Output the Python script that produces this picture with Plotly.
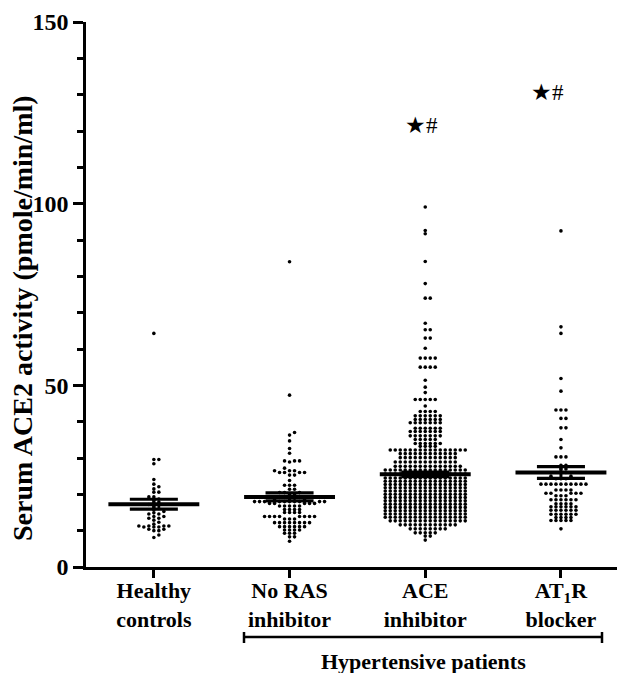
import numpy as np
import plotly.graph_objects as go

# ---------------- data ----------------
categories = ["Healthy<br>controls", "No RAS<br>inhibitor", "ACE<br>inhibitor", "AT<sub>1</sub>R<br>blocker"]

# each group: observed value levels and number of dots at that level
healthy_vals = [64.3, 29.6, 28.4, 24.1, 22.8, 22.1, 21.5, 20.6, 19.3, 18.7, 18.3, 17.9, 17.5, 17.2, 16.9,
                16.5, 16.1, 15.7, 15.3, 14.9, 14.6, 13.9, 13.4, 12.9, 12.3, 11.8, 11.3, 11.0, 10.4, 10.0, 8.8, 8.1]
healthy_n = [1, 2, 1, 1, 1, 1, 1, 2, 2, 1, 1, 1, 1, 1, 1,
             1, 1, 1, 1, 1, 2, 2, 2, 1, 1, 1, 4, 3, 2, 2, 1, 1]

no_ras_vals = [84.0, 47.3, 37.0, 36.3, 34.7, 32.6, 31.3, 29.2, 28.9, 27.2, 26.5, 26.0, 25.3, 23.8, 22.5, 21.4,
               20.5, 19.9, 19.4, 18.9, 18.5, 18.0, 17.5, 16.8, 15.8, 15.0, 13.9, 13.2, 12.2, 11.1, 10.2, 9.3, 8.3, 7.1]
no_ras_n = [1, 1, 1, 1, 1, 1, 1, 3, 1, 1, 3, 4, 2, 1, 3, 2,
            3, 2, 2, 2, 2, 10, 5, 5, 4, 4, 8, 3, 8, 6, 4, 3, 2, 1]

ace_vals = [99.1, 92.6, 91.7, 84.1, 78.0, 74.0, 67.1, 65.3, 63.0, 60.2, 57.5, 55.0, 51.4, 49.5, 48.0, 46.1,
            44.3, 42.8, 41.6, 40.6, 39.7, 38.2, 37.3, 36.1, 35.1, 34.0, 33.2, 32.2, 31.2, 30.1, 28.9, 27.7,
            26.7, 25.6, 24.5, 23.6, 22.7, 21.8, 20.9, 20.0, 19.1, 18.2, 17.3, 16.4, 15.5, 14.6, 13.7, 12.7,
            11.6, 10.5, 9.4, 8.5, 7.4]
ace_n = [1, 1, 1, 1, 1, 2, 1, 2, 2, 1, 4, 4, 1, 1, 1, 5,
         1, 4, 6, 6, 7, 6, 7, 7, 5, 6, 4, 16, 12, 12, 13, 14,
         17, 17, 17, 17, 17, 17, 17, 17, 17, 17, 17, 17, 17, 17, 17, 16,
         12, 8, 5, 2, 1]

at1r_vals = [92.5, 66.1, 64.3, 51.9, 48.4, 43.2, 40.9, 38.3, 35.1, 32.8, 30.3, 28.0, 27.0, 26.0, 25.0, 24.3,
             22.8, 21.2, 20.3, 19.6, 18.5, 17.4, 16.6, 15.6, 14.5, 13.6, 12.8, 10.5]
at1r_n = [1, 1, 1, 1, 1, 3, 2, 2, 1, 1, 3, 2, 2, 2, 2, 3,
          10, 4, 5, 3, 6, 4, 6, 6, 6, 4, 5, 1]

group_means = [17.3, 19.3, 25.5, 26.0]
group_sems = [1.35, 1.1, 0.65, 1.6]

sig_labels = ["", "", "★#", "★#"]
sig_values = [None, None, 121.5, 130.5]

y_ticks = [0, 50, 100, 150]

# ---------------- layout geometry ----------------
W, H = 617, 673
ML, MR, MT, MB = 86, 0, 22, 106
plot_w = W - ML - MR
plot_h = H - MT - MB
Y_MAX = 150
px_per_y = plot_h / Y_MAX
px_per_cat = 135.7
x_range = [-0.5, -0.5 + plot_w / px_per_cat]

FONT = "Liberation Serif"


def swarm_offsets(values, sep=5.0, band=2.8):
    """Beeswarm: place dots side by side when they are within `band` px vertically."""
    values = np.asarray(values, dtype=float)
    order = np.argsort(values, kind="stable")
    placed = []
    offs = np.zeros(len(values))
    for idx in order:
        ypx = values[idx] * px_per_y
        near = [px for py, px in placed if abs(py - ypx) < band]
        cands = [0.0] + [p + sep for p in near] + [p - sep for p in near]
        cands.sort(key=lambda c: (abs(c), -c))
        chosen = 0.0
        for c in cands:
            if all(abs(c - p) >= sep - 1e-6 for p in near):
                chosen = c
                break
        offs[idx] = chosen
        placed.append((ypx, chosen))
    return offs / px_per_cat


groups = [
    (healthy_vals, healthy_n),
    (no_ras_vals, no_ras_n),
    (ace_vals, ace_n),
    (at1r_vals, at1r_n),
]

fig = go.Figure()

for i, (vals, counts) in enumerate(groups):
    y = np.repeat(np.asarray(vals, dtype=float), counts)
    x = i + swarm_offsets(y)
    fig.add_trace(go.Scatter(
        x=x, y=y, mode="markers",
        marker=dict(size=3.6, color="black", line=dict(width=0)),
        showlegend=False, hoverinfo="y",
    ))

MEAN_HW = 0.335
SEM_HW = 0.177
for i, (m, s) in enumerate(zip(group_means, group_sems)):
    fig.add_trace(go.Scatter(x=[i - MEAN_HW, i + MEAN_HW], y=[m, m], mode="lines",
                             line=dict(color="black", width=4), showlegend=False, hoverinfo="skip"))
    for yy in (m - s, m + s):
        fig.add_trace(go.Scatter(x=[i - SEM_HW, i + SEM_HW], y=[yy, yy], mode="lines",
                                 line=dict(color="black", width=3.2), showlegend=False, hoverinfo="skip"))
    fig.add_trace(go.Scatter(x=[i, i], y=[m - s, m + s], mode="lines",
                             line=dict(color="black", width=3), showlegend=False, hoverinfo="skip"))

annotations = []
sig_dx = [0, 0, -0.03, -0.1]
for i, (lab, v) in enumerate(zip(sig_labels, sig_values)):
    if lab and v is not None:
        annotations.append(dict(x=i + sig_dx[i], y=v, xref="x", yref="y", text=lab, showarrow=False,
                                font=dict(family=FONT, size=23, color="black"),
                                xanchor="center", yanchor="middle"))

# y-axis title
annotations.append(dict(
    x=(22 - ML) / plot_w, y=(MT + plot_h - 318) / plot_h, xref="paper", yref="paper",
    text="Serum ACE2 activity (pmole/min/ml)", textangle=-90, showarrow=False,
    font=dict(family=FONT, size=28, color="black", weight="bold"),
    xanchor="center", yanchor="middle"))

# bracket for hypertensive patients
br_x0 = (244 - ML) / px_per_cat - 0.5
br_x1 = (602 - ML) / px_per_cat - 0.5
br_y = (MT + plot_h - 637) / plot_h
cap_top = (MT + plot_h - 632) / plot_h
cap_bot = (MT + plot_h - 643) / plot_h
shapes = [
    dict(type="line", xref="x", yref="paper", x0=br_x0, x1=br_x1, y0=br_y, y1=br_y,
         line=dict(color="black", width=2.5)),
    dict(type="line", xref="x", yref="paper", x0=br_x0, x1=br_x0, y0=cap_top, y1=cap_bot,
         line=dict(color="black", width=2.5)),
    dict(type="line", xref="x", yref="paper", x0=br_x1, x1=br_x1, y0=cap_top, y1=cap_bot,
         line=dict(color="black", width=2.5)),
]
annotations.append(dict(
    x=(br_x0 + br_x1) / 2, y=(MT + plot_h - 661) / plot_h, xref="x", yref="paper",
    text="Hypertensive patients", showarrow=False,
    font=dict(family=FONT, size=22, color="black", weight="bold"),
    xanchor="center", yanchor="middle"))

fig.update_layout(
    width=W, height=H,
    margin=dict(l=ML, r=MR, t=MT, b=MB, pad=0),
    paper_bgcolor="white", plot_bgcolor="white",
    showlegend=False,
    annotations=annotations,
    shapes=shapes,
    xaxis=dict(
        range=x_range, tickmode="array", tickvals=list(range(len(categories))), ticktext=categories,
        ticks="outside", ticklen=8, tickwidth=2.5, tickcolor="black",
        showline=True, linewidth=2.5, linecolor="black",
        showgrid=False, zeroline=False, ticklabelstandoff=-6,
        tickfont=dict(family=FONT, size=22, color="black", weight="bold"),
    ),
    yaxis=dict(
        range=[0, Y_MAX], tickmode="array", tickvals=y_ticks,
        ticks="outside", ticklen=10, tickwidth=2.5, tickcolor="black",
        minor=dict(dtick=10, ticks="outside", ticklen=6, tickwidth=2.5, tickcolor="black", showgrid=False),
        showline=True, linewidth=2.5, linecolor="black",
        showgrid=False, zeroline=False,
        tickfont=dict(family=FONT, size=24, color="black", weight="bold"),
    ),
)

fig.write_html("out.html", config={"displayModeBar": False},
               post_script="document.body.style.margin='0';")
